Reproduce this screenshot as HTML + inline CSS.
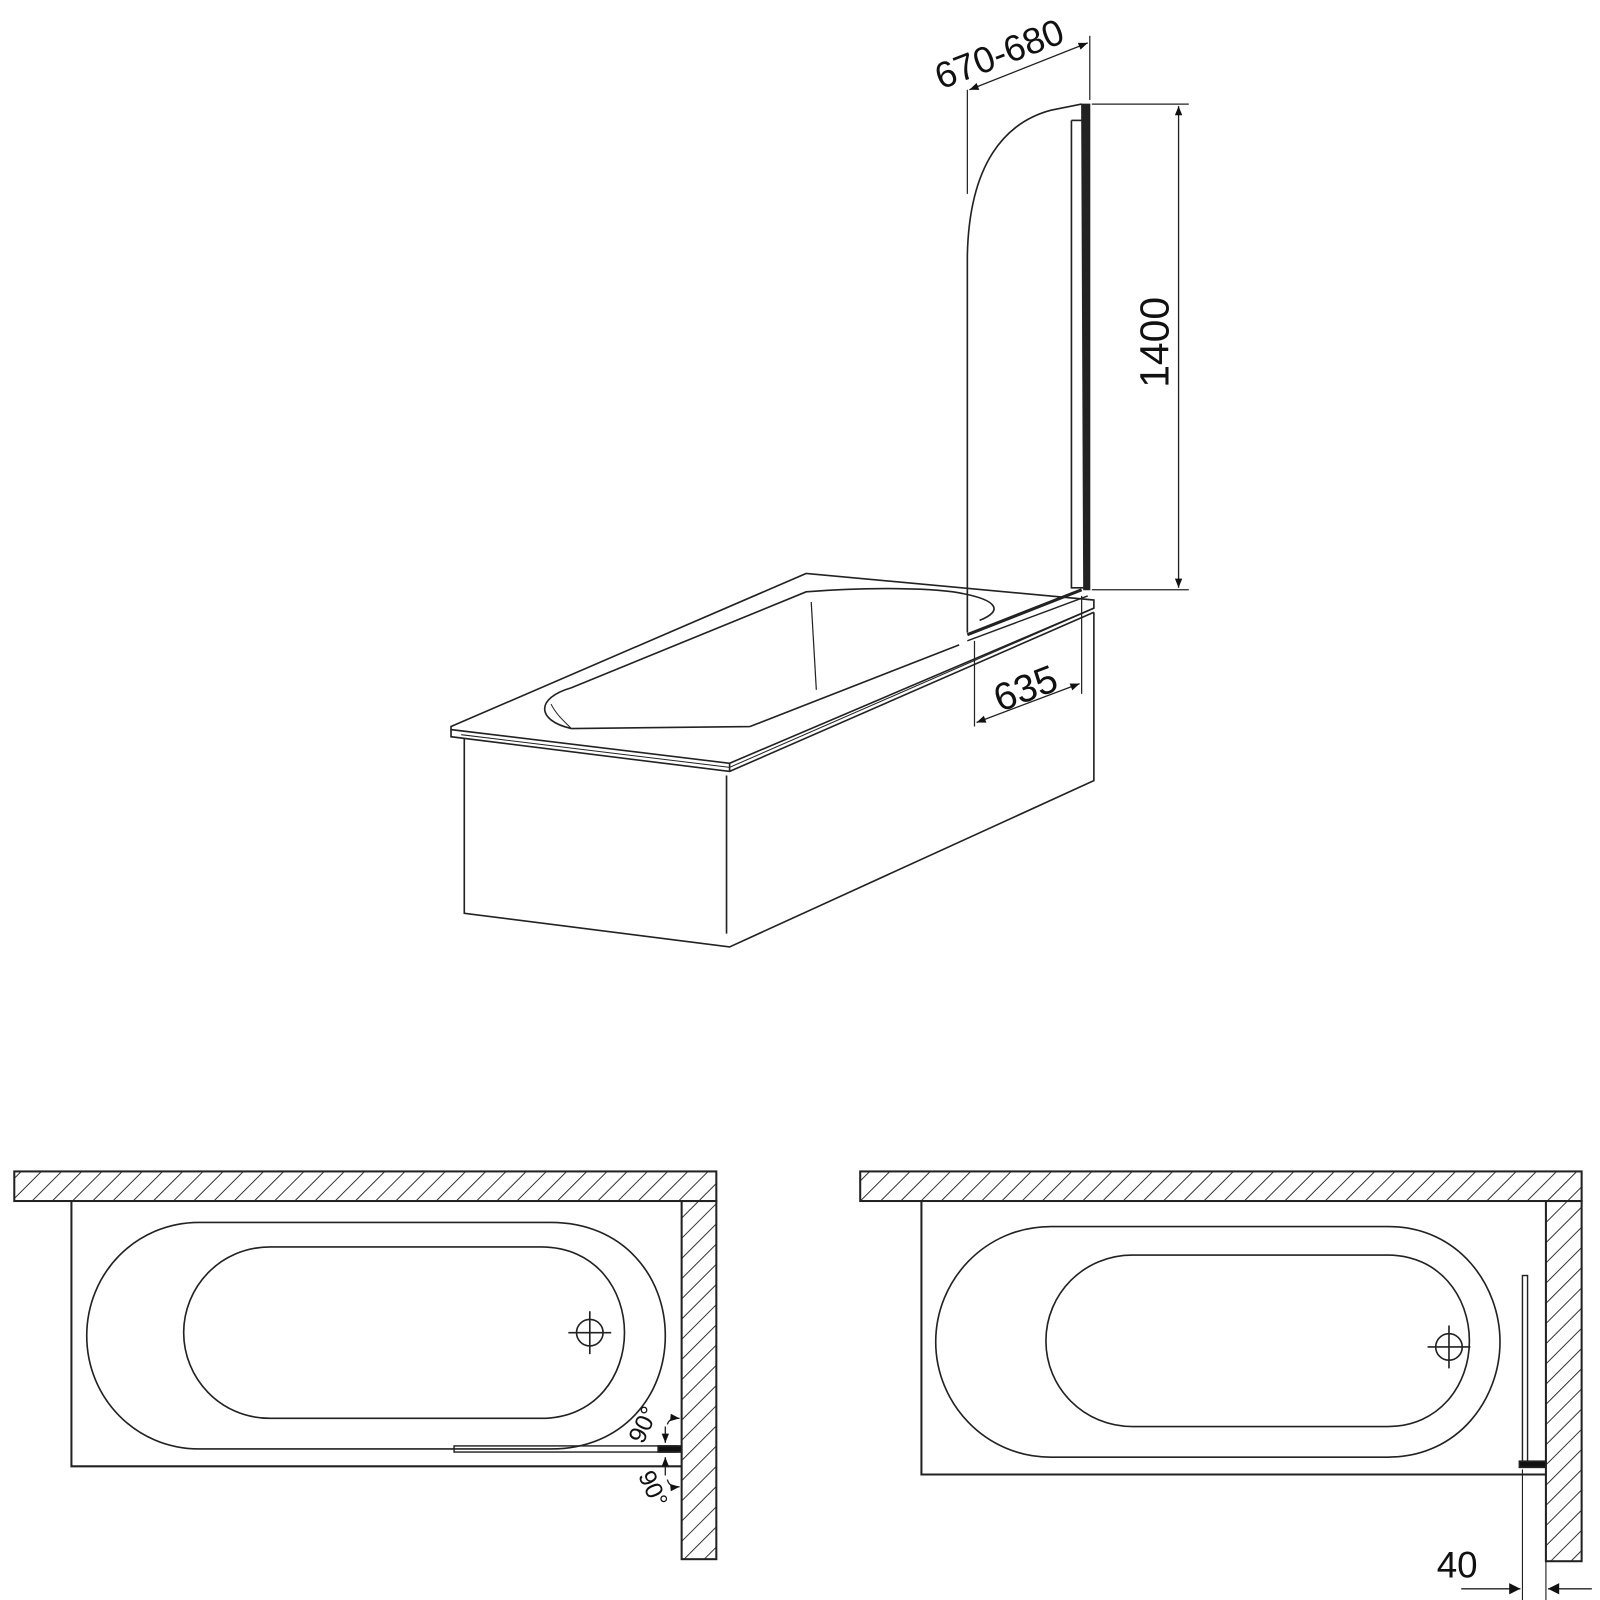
<!DOCTYPE html>
<html><head><meta charset="utf-8"><style>
html,body{margin:0;padding:0;background:#fff;}
svg{display:block;}
text{font-family:"Liberation Sans",Arial,sans-serif;fill:#111;}
</style></head><body>
<svg width="1600" height="1600" viewBox="0 0 1568 1568" xmlns="http://www.w3.org/2000/svg">
<defs>
<pattern id="h" patternUnits="userSpaceOnUse" width="14" height="14" patternTransform="rotate(45)">
<line x1="0" y1="0" x2="0" y2="14" stroke="#222" stroke-width="1.8"/>
</pattern>
<marker id="a" viewBox="0 0 10 10" refX="10" refY="5" markerWidth="20" markerHeight="9" orient="auto-start-reverse" markerUnits="userSpaceOnUse">
<path d="M0,1 L10,5 L0,9 Z" fill="#111"/>
</marker>
<marker id="b" viewBox="0 0 10 10" refX="10" refY="5" markerWidth="26" markerHeight="11" orient="auto-start-reverse" markerUnits="userSpaceOnUse">
<path d="M0,0 L10,5 L0,10 Z" fill="#111"/>
</marker>
</defs>
<g fill="none" stroke="#222" stroke-width="1.6">
<path d="M442,712 L790,562 L1072,588 L1072,596 L715,748 L442,715 Z" />
<path d="M442,715 L442,722 L715,756 L1072,600"/>
<path d="M715,748 L715,756"/>
<path d="M455,724 L455,895 L715,928 L1072,765 L1072,600"/>
<path d="M712,760 L712,915"/>
<path d="M452,720 L715,752 L1068,598" stroke-width="1"/>
<!-- bowl -->
<path d="M560,714 C525,706 525,684 560,674 L790,580 C850,575 920,576 945,582 C975,588 985,598 960,608 M735,712 L940,632 M735,712 L560,714" />
<path d="M540,690 C545,700 552,706 560,714" stroke-width="1"/>
<path d="M795,590 L800,676" stroke-width="1.2"/>
<!-- panel -->
<path d="M1060,102 L1068,102 L1068,578 L1062,578 Z" fill="#222" stroke-width="1"/>
<path d="M1050,118 L1050,576 L1062,576" />
<path d="M1050,118 L1060,118"/>
<path d="M1060,102 L1030,108 C985,120 950,160 948,250 L948,620"/>
<path d="M948,622 L1060,578" stroke-width="3"/>
<path d="M948,628 L1066,584" stroke-width="1.4"/>
<path d="M948,88 L948,190 M1068,35 L1068,98" stroke-width="1.2"/>
<path d="M950,88 L1066,42" stroke-width="1.3" marker-start="url(#a)" marker-end="url(#a)"/>
<path d="M1070,102 L1165,102 M1070,578 L1165,578" stroke-width="1.2"/>
<path d="M1155,104 L1155,576" stroke-width="1.3" marker-start="url(#a)" marker-end="url(#a)"/>
<path d="M955,628 L955,712 M1060,584 L1060,680" stroke-width="1.2"/>
<path d="M957,708 L1058,670" stroke-width="1.3" marker-start="url(#a)" marker-end="url(#a)"/>

<!-- BOTTOM LEFT -->
<rect x="14" y="1148" width="688" height="29" fill="url(#h)" stroke-width="2"/>
<rect x="668" y="1177" width="34" height="351" fill="url(#h)" stroke-width="2"/>
<path d="M70,1177 L70,1437 L668,1437" stroke-width="2"/>
<path d="M195,1198 L540,1198 C610,1198 652,1250 652,1309 C652,1368 610,1420 540,1420 L195,1420 C133,1420 85,1370 85,1309 C85,1248 133,1198 195,1198 Z"/>
<path d="M265,1222 L530,1222 C585,1222 612,1265 612,1306 C612,1347 585,1390 530,1390 L265,1390 C215,1390 180,1350 180,1306 C180,1262 215,1222 265,1222 Z"/>
<circle cx="578" cy="1306" r="13"/>
<path d="M557,1306 L599,1306 M578,1285 L578,1327"/>
<rect x="445" y="1417" width="218" height="6" stroke-width="1.4"/>
<rect x="645" y="1417" width="23" height="6" fill="#111"/>
<path d="M652,1398 L652,1414" marker-end="url(#a)" stroke-width="1.3"/>
<path d="M654,1396 Q656,1389 666,1390" marker-end="url(#a)" stroke-width="1.3"/>
<path d="M652,1446 L652,1428" marker-end="url(#a)" stroke-width="1.3"/>
<path d="M654,1450 Q656,1458 666,1457" marker-end="url(#a)" stroke-width="1.3"/>

<!-- BOTTOM RIGHT -->
<rect x="843" y="1148" width="707" height="29" fill="url(#h)" stroke-width="2"/>
<rect x="1515" y="1177" width="35" height="353" fill="url(#h)" stroke-width="2"/>
<path d="M903,1177 L903,1445 L1515,1445" stroke-width="2"/>
<path d="M1030,1202 L1360,1202 C1430,1202 1470,1260 1470,1315 C1470,1370 1430,1428 1360,1428 L1030,1428 C965,1428 917,1375 917,1315 C917,1255 965,1202 1030,1202 Z"/>
<path d="M1110,1230 L1360,1230 C1410,1230 1440,1270 1440,1314 C1440,1358 1410,1398 1360,1398 L1110,1398 C1062,1398 1025,1360 1025,1314 C1025,1268 1062,1230 1110,1230 Z"/>
<circle cx="1420" cy="1320" r="13"/>
<path d="M1399,1320 L1441,1320 M1420,1299 L1420,1341"/>
<rect x="1492" y="1250" width="5" height="184" stroke-width="1.4"/>
<rect x="1489" y="1432" width="26" height="6" fill="#111"/>
<path d="M1492,1440 L1492,1568 M1515,1530 L1515,1568" stroke-width="1.1"/>
<path d="M1432,1557 L1490,1557" marker-end="url(#b)" stroke-width="1.3"/>
<path d="M1560,1557 L1517,1557" marker-end="url(#b)" stroke-width="1.3"/>
</g>
<text x="0" y="0" font-size="36" transform="translate(922,88) rotate(-21)">670-680</text>
<text x="0" y="0" font-size="40" transform="translate(1145,380) rotate(-90)">1400</text>
<text x="0" y="0" font-size="38" transform="translate(980,698) rotate(-21)">635</text>
<text x="0" y="0" font-size="24" transform="translate(630,1416) rotate(-65)">90°</text>
<text x="0" y="0" font-size="24" transform="translate(625,1446) rotate(65)">90°</text>
<text x="1408" y="1546" font-size="36">40</text>
</svg>
</body></html>
